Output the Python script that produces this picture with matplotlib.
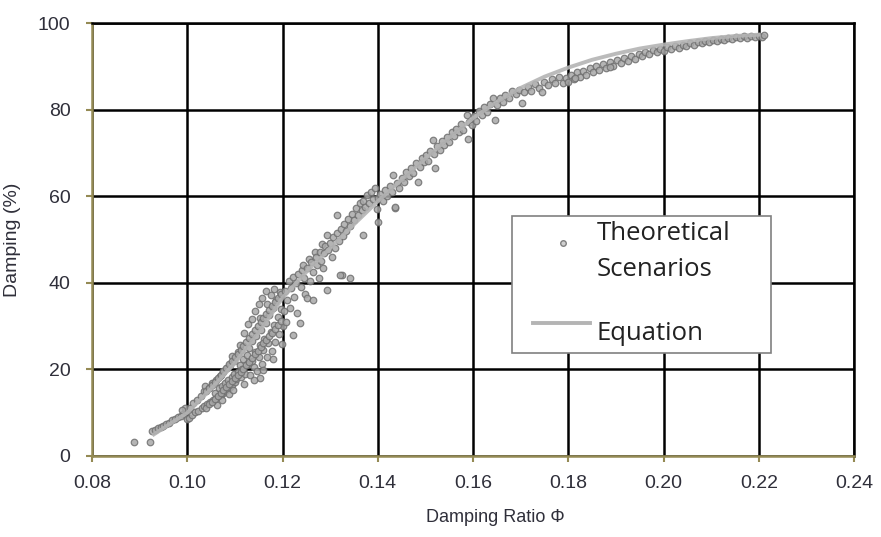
import numpy as np
import matplotlib
matplotlib.use("Agg")
import matplotlib.pyplot as plt
from matplotlib.patches import Rectangle

# simulated scenarios, read in bands along the damping ratio axis
low_x = [0.0888, 0.0922, 0.0925, 0.0932, 0.0938, 0.0944, 0.0950, 0.0956, 0.0962, 0.0968,
         0.0974, 0.0980, 0.0986, 0.0992, 0.0997, 0.0999, 0.0995, 0.0990]
low_y = [3.2, 3.3, 5.8, 6.0, 6.4, 6.6, 7.0, 7.4, 7.6, 8.2,
         8.5, 9.0, 9.3, 9.8, 10.4, 8.6, 11.2, 10.6]

b_x = [0.1005, 0.1012, 0.1020, 0.1028, 0.1035, 0.1037, 0.1045, 0.1052, 0.1060, 0.1068,
       0.1075, 0.1083, 0.1090, 0.1098,
       0.1003, 0.1010, 0.1016, 0.1022, 0.1030, 0.1036, 0.1042, 0.1048, 0.1054, 0.1060,
       0.1065, 0.1070, 0.1075, 0.1080, 0.1085, 0.1090, 0.1095, 0.1100, 0.1058, 0.1066,
       0.1072, 0.1079, 0.1086, 0.1093, 0.1099, 0.1062, 0.1074, 0.1088, 0.1097]
b_y = [11.0, 12.3, 13.0, 13.8, 14.9, 16.2, 15.8, 16.9, 17.6, 18.4,
       19.5, 20.3, 21.1, 22.0,
       8.8, 9.4, 10.1, 10.3, 11.0, 11.6, 12.0, 12.4, 12.9, 13.3,
       13.8, 14.2, 14.5, 15.0, 15.4, 16.0, 16.4, 17.0, 14.6, 15.6,
       16.1, 16.8, 17.5, 18.3, 18.9, 11.8, 12.9, 14.3, 15.2]

c_x = [0.1103, 0.1106, 0.1107, 0.1110, 0.1112, 0.1115, 0.1118, 0.1120, 0.1122, 0.1125,
       0.1127, 0.1130, 0.1132, 0.1135, 0.1137, 0.1140, 0.1142, 0.1145, 0.1147, 0.1150,
       0.1152, 0.1153, 0.1155, 0.1157, 0.1160, 0.1162, 0.1165, 0.1167, 0.1170, 0.1172,
       0.1175, 0.1177, 0.1180, 0.1182, 0.1185, 0.1187, 0.1190, 0.1192, 0.1195, 0.1197,
       0.1200, 0.1120, 0.1128, 0.1135, 0.1143, 0.1150, 0.1158, 0.1165, 0.1110, 0.1095,
       0.1183, 0.1175, 0.1140, 0.1160, 0.1180, 0.1198, 0.1168, 0.1152]
c_y = [17.8, 19.5, 24.0, 21.0, 18.2, 20.2, 22.5, 16.6, 19.0, 23.4,
       21.2, 25.0, 18.8, 22.0, 26.5, 20.5, 24.0, 27.6, 19.6, 22.8,
       25.6, 18.1, 29.0, 21.3, 24.4, 27.0, 30.8, 22.8, 26.0, 32.5,
       28.6, 24.2, 34.2, 30.2, 26.4, 36.0, 32.0, 28.2, 37.8, 34.0,
       30.0, 28.5, 30.4, 31.6, 33.4, 35.2, 36.6, 38.0, 25.6, 23.0,
       38.6, 37.2, 17.5, 19.8, 22.5, 25.8, 35.0, 31.8]

# thick band of scenarios between 0.104 and 0.120
dense_x = [0.1040, 0.1046, 0.1052, 0.1058, 0.1064, 0.1070, 0.1076, 0.1082, 0.1088, 0.1094,
           0.1100, 0.1106, 0.1112, 0.1118, 0.1124, 0.1130, 0.1136, 0.1142, 0.1148, 0.1154,
           0.1160, 0.1166, 0.1172, 0.1178, 0.1184, 0.1190, 0.1196]
dense_lo_y = [11.2, 11.9, 12.5, 13.1, 13.9, 14.6, 15.3, 15.9, 16.7, 17.3,
              18.0, 18.6, 19.4, 20.1, 21.0, 21.8, 22.6, 23.5, 24.3, 25.1,
              26.0, 26.8, 27.6, 28.5, 29.4, 30.3, 31.2]
dense_mid_y = [15.0, 15.8, 16.4, 17.2, 18.0, 18.8, 19.6, 20.3, 21.2, 22.0,
               22.8, 23.6, 24.5, 25.4, 26.4, 27.2, 28.1, 29.0, 30.0, 31.0,
               31.8, 32.8, 33.7, 34.6, 35.5, 36.4, 37.3]

d_x = [0.1203, 0.1206, 0.1208, 0.1210, 0.1213, 0.1215, 0.1218, 0.1222, 0.1222, 0.1225,
       0.1228, 0.1230, 0.1233, 0.1237, 0.1238, 0.1240, 0.1243, 0.1245, 0.1248, 0.1251,
       0.1252, 0.1255, 0.1258, 0.1260, 0.1264, 0.1265, 0.1268, 0.1270, 0.1273, 0.1276,
       0.1278, 0.1280, 0.1283, 0.1285, 0.1288, 0.1290, 0.1293, 0.1293, 0.1296, 0.1300,
       0.1303, 0.1306, 0.1310, 0.1314, 0.1315, 0.1318, 0.1322, 0.1325, 0.1326, 0.1330,
       0.1334, 0.1338, 0.1342, 0.1342, 0.1346, 0.1350, 0.1354, 0.1358, 0.1362, 0.1366,
       0.1370, 0.1374, 0.1378, 0.1382, 0.1386, 0.1390, 0.1395, 0.1398, 0.1400, 0.1369,
       0.1436, 0.1400, 0.1321]
d_y = [33.5, 38.0, 31.0, 36.0, 40.5, 34.2, 38.8, 28.0, 41.4, 36.8,
       40.0, 33.0, 42.0, 30.7, 39.0, 43.0, 44.0, 41.0, 37.5, 36.5,
       43.5, 45.5, 40.5, 44.8, 36.0, 42.5, 47.0, 46.0, 44.2, 41.0,
       47.2, 45.0, 49.0, 43.5, 46.8, 48.5, 51.0, 38.3, 47.5, 49.2,
       46.0, 50.5, 48.0, 55.7, 51.5, 49.6, 52.5, 41.8, 50.8, 53.5,
       52.0, 54.8, 41.0, 53.2, 56.0, 54.5, 57.2, 55.6, 58.5, 56.8,
       59.0, 57.6, 60.2, 58.4, 61.0, 59.3, 61.8, 57.0, 59.6, 51.0,
       57.3, 54.0, 41.8]

e_x = [0.1405, 0.1410, 0.1415, 0.1420, 0.1425, 0.1430, 0.1432, 0.1436, 0.1440, 0.1445,
       0.1450, 0.1455, 0.1460, 0.1465, 0.1470, 0.1475, 0.1480, 0.1485, 0.1488, 0.1492,
       0.1497, 0.1502, 0.1506, 0.1510, 0.1516, 0.1518, 0.1520, 0.1524, 0.1530, 0.1535,
       0.1540, 0.1545, 0.1550, 0.1555, 0.1560, 0.1565, 0.1570, 0.1575, 0.1580, 0.1587,
       0.1590, 0.1592, 0.1597, 0.1602, 0.1607, 0.1612, 0.1618, 0.1624, 0.1630, 0.1636,
       0.1642, 0.1646, 0.1650, 0.1656, 0.1662, 0.1668, 0.1675, 0.1682, 0.1690, 0.1697,
       0.1703, 0.1708, 0.1715, 0.1722, 0.1730, 0.1738, 0.1745, 0.1750, 0.1758, 0.1765,
       0.1772, 0.1780, 0.1789, 0.1795]
e_y = [60.5, 58.8, 61.5, 60.0, 62.4, 61.0, 64.9, 57.5, 63.0, 62.0,
       64.2, 63.2, 65.5, 64.6, 66.6, 65.4, 67.6, 63.3, 66.8, 68.8,
       67.9, 69.5, 68.2, 70.4, 73.0, 69.8, 66.5, 71.5, 70.6, 72.8,
       71.8, 73.6, 72.6, 74.8, 73.8, 75.6, 74.9, 76.6, 75.4, 78.8,
       73.2, 77.2, 76.5, 78.6, 77.4, 79.6, 78.8, 80.5, 79.4, 81.3,
       82.7, 77.6, 81.0, 82.6, 81.8, 83.4, 82.6, 84.4, 83.5, 84.6,
       81.5, 84.0, 85.2, 84.4, 85.8, 85.0, 84.1, 86.4, 85.6, 87.0,
       86.1, 87.6, 86.1, 87.2]

f_x = [0.1800, 0.1806, 0.1812, 0.1818, 0.1825, 0.1832, 0.1838, 0.1845, 0.1852, 0.1858,
       0.1865, 0.1872, 0.1880, 0.1888, 0.1895, 0.1902, 0.1910, 0.1918, 0.1925, 0.1932,
       0.1940, 0.1948, 0.1955, 0.1962, 0.1970, 0.1978, 0.1986, 0.1993, 0.2000, 0.2008,
       0.2016, 0.2024, 0.2032, 0.2040, 0.2048, 0.2056, 0.2064, 0.2072, 0.2080, 0.2088,
       0.2096, 0.2104, 0.2112, 0.2120, 0.2128, 0.2136, 0.2144, 0.2152, 0.2160, 0.2168,
       0.2176, 0.2184, 0.2192, 0.2200, 0.2206, 0.2210, 0.1814, 0.1888]
f_y = [86.4, 88.0, 87.0, 88.6, 87.6, 89.0, 88.1, 89.5, 88.7, 90.0,
       89.2, 90.5, 89.7, 90.9, 90.1, 91.4, 90.7, 91.9, 91.3, 92.4,
       91.8, 92.8, 92.3, 93.3, 92.8, 93.7, 93.2, 94.0, 93.6, 94.4,
       94.0, 94.7, 94.3, 95.0, 94.7, 95.3, 95.0, 95.6, 95.3, 95.9,
       95.5, 96.1, 95.8, 96.3, 96.1, 96.5, 96.3, 96.8, 96.5, 96.9,
       96.6, 97.0, 96.7, 97.0, 96.8, 97.2, 87.4, 89.8]

# fitted equation
eq_x = [0.093, 0.100, 0.105, 0.110, 0.115, 0.120, 0.125, 0.130, 0.135, 0.140,
        0.145, 0.150, 0.155, 0.160, 0.165, 0.170, 0.175, 0.180, 0.185, 0.190,
        0.195, 0.200, 0.205, 0.210, 0.215, 0.220]
eq_y = [5.0, 10.0, 15.5, 21.5, 28.5, 36.5, 42.5, 48.0, 53.5, 58.8,
        63.8, 68.7, 73.5, 78.0, 81.8, 85.0, 87.6, 89.7, 91.5, 92.9,
        94.1, 95.0, 95.8, 96.5, 97.0, 97.3]

x_ticks = [0.08, 0.10, 0.12, 0.14, 0.16, 0.18, 0.20, 0.22, 0.24]
y_ticks = [0, 20, 40, 60, 80, 100]

olive = "#948a54"
txt = "#2f2f3a"
plt.rcParams["font.family"] = ["Liberation Sans", "DejaVu Sans"]

sc_x = low_x + b_x + c_x + dense_x + dense_x + d_x + e_x + f_x
sc_y = low_y + b_y + c_y + dense_lo_y + dense_mid_y + d_y + e_y + f_y

fig = plt.figure(figsize=(8.81, 5.37), dpi=100)
ax = fig.add_axes([92 / 881, 81 / 537, 762 / 881, 433 / 537])

ax.scatter(sc_x, sc_y, s=22, facecolors="#a8a8a8", edgecolors="#707070",
           linewidths=0.9, alpha=0.85, zorder=3)
ax.plot(eq_x, eq_y, color="#b4b4b4", lw=2.8, alpha=0.9, zorder=4)

ax.set_xlim(0.08, 0.24)
ax.set_ylim(0, 100)
ax.set_xticks(x_ticks)
ax.set_xticklabels([f"{t:.2f}" for t in x_ticks])
ax.set_yticks(y_ticks)
ax.grid(color="black", lw=1.8, zorder=1)
ax.set_axisbelow(True)

for side in ["top", "right"]:
    ax.spines[side].set_color("black")
    ax.spines[side].set_linewidth(1.8)
for side in ["left", "bottom"]:
    ax.spines[side].set_color(olive)
    ax.spines[side].set_linewidth(1.8)

ax.tick_params(axis="both", direction="out", length=4.5, width=1.5, color=olive,
               labelsize=14, labelcolor=txt)
ax.tick_params(axis="y", pad=11)
ax.tick_params(axis="x", pad=9)

ax.set_xlabel("Damping Ratio \u03a6", fontsize=13, color=txt)
ax.xaxis.set_label_coords(0.529, -0.122)
ax.set_ylabel("Damping (%)", fontsize=14, color=txt)
ax.yaxis.set_label_coords(-0.093, 0.5)

# legend box
ax.add_patch(Rectangle((0.551, 0.238), 0.34, 0.316, transform=ax.transAxes,
                       facecolor="white", edgecolor="#808080", lw=1.2, zorder=6))
ax.plot([0.618], [0.492], "o", ms=4, mfc="#d0d0d0", mec="#808080", mew=1,
        transform=ax.transAxes, zorder=7)
ax.plot([0.579, 0.654], [0.307, 0.307], color="#b4b4b4", lw=2.8,
        transform=ax.transAxes, zorder=7)
leg_font = dict(fontsize=18.5, color="#222222", family="Open Sans", zorder=8,
                transform=ax.transAxes, va="center", ha="left")
ax.text(0.662, 0.514, "Theoretical", **leg_font)
ax.text(0.662, 0.430, "Scenarios", **leg_font)
ax.text(0.662, 0.282, "Equation", **leg_font)

fig.savefig("out.png", dpi=100)
